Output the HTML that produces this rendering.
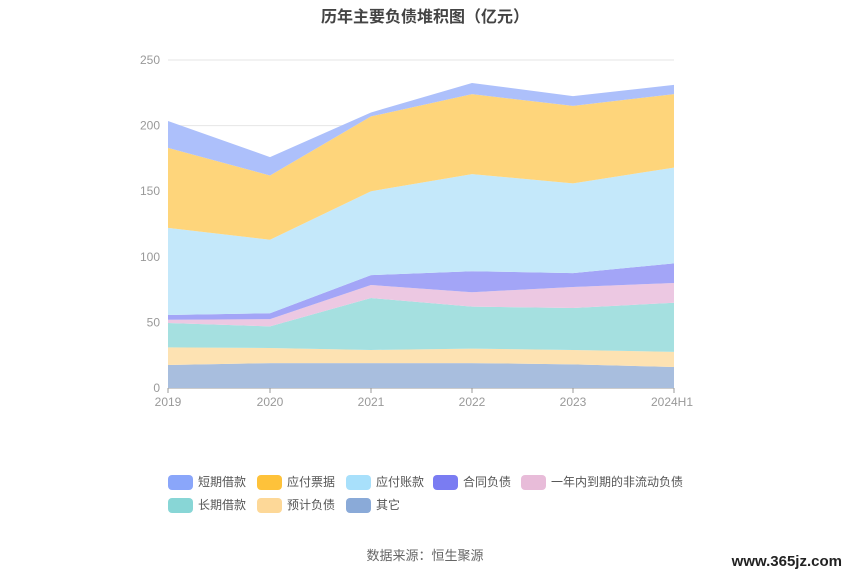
<!DOCTYPE html>
<html><head><meta charset="utf-8"><style>
body{margin:0;background:#fff;font-family:"Liberation Sans","Noto Sans CJK SC",sans-serif}
</style></head><body>
<svg id="s" width="850" height="575" xmlns="http://www.w3.org/2000/svg" font-family="Liberation Sans, Noto Sans CJK SC, sans-serif">
<text x="425" y="22" text-anchor="middle" font-size="16" font-weight="bold" fill="#444">历年主要负债堆积图（亿元）</text>
<g id="grid"></g><g id="areas"></g>
<text x="425" y="560" text-anchor="middle" font-size="13" fill="#666">数据来源：恒生聚源</text>
<text x="842" y="566" text-anchor="end" font-size="15" font-weight="bold" fill="#222">www.365jz.com</text>
<g id="leg" font-size="12" fill="#555"></g>
</svg>
<script>
const X=[168,270,371,472,573,674],Y0=388,K=1.312;
const tops=[
[17.5,19,19,19,18,16],
[31,30.5,29,30,29,27.5],
[49.5,47,68.6,62,61,65],
[52,52.5,78.5,73,77,80],
[55.6,57,86,89,87.6,95],
[122,113,150,163,156,168],
[183,162,207,224,215,224],
[203.5,176,210,232.5,222.5,231]];
const fills=['#a8bede','#fde2b2','#a5e0e0','#ecc8e2','#a3a5f7','#c4e8fa','#fed57b','#adc0fb'];
const ns='http://www.w3.org/2000/svg';
function el(t,a,p,txt){const e=document.createElementNS(ns,t);for(const k in a)e.setAttribute(k,a[k]);if(txt)e.textContent=txt;p.appendChild(e);return e;}
const g=document.getElementById('grid'),ar=document.getElementById('areas'),lg=document.getElementById('leg');
for(let v=0;v<=250;v+=50){const y=Y0-v*K;if(v>0)el('line',{x1:168,x2:674,y1:y,y2:y,stroke:'#e6e6e6'},g);
el('text',{x:160,y:y+4,'text-anchor':'end','font-size':12,fill:'#999'},g,String(v));}
const lab=['2019','2020','2021','2022','2023','2024H1'];
X.forEach((x,i)=>{el('text',{x:i==5?x-2:x,y:406,'text-anchor':'middle','font-size':12,fill:'#999'},g,lab[i]);el('line',{x1:x,x2:x,y1:388,y2:393,stroke:'#999'},g);});
el('line',{x1:168,x2:674,y1:388,y2:388,stroke:'#999'},g);
for(let s=0;s<tops.length;s++){
 const up=X.map((x,i)=>x+','+(Y0-tops[s][i]*K));
 const lo=X.map((x,i)=>x+','+(s?Y0-tops[s-1][i]*K:Y0)).reverse();
 el('polygon',{points:up.concat(lo).join(' '),fill:fills[s]},ar);
}
const L=[['短期借款','#8aa6fa',168,482],['应付票据','#fec23a',257,482],['应付账款','#a8e0fb',346,482],['合同负债','#7a7cf2',433,482],['一年内到期的非流动负债','#e8bcd9',521,482],
['长期借款','#88d6d6',168,505],['预计负债','#fdd898',257,505],['其它','#8aaad8',346,505]];
L.forEach(([t,c,x,y])=>{el('rect',{x:x,y:y-7,width:25,height:15,rx:4,fill:c},lg);el('text',{x:x+30,y:y+4},lg,t);});
</script>
</body></html>
